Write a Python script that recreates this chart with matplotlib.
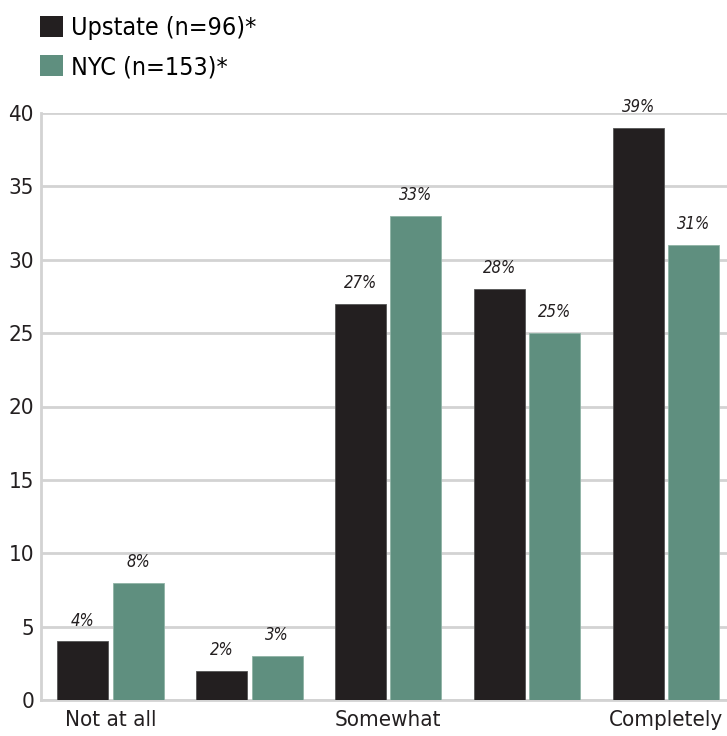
import matplotlib
matplotlib.use("Agg")
import matplotlib.pyplot as plt
from matplotlib.patches import Patch
import numpy as np

plt.rcParams['font.family'] = ["DejaVu Sans"]
plt.rcParams['font.stretch'] = "condensed"

categories = ["Not at all", "", "Somewhat", "", "Completely"]
upstate = [4, 2, 27, 28, 39]
nyc = [8, 3, 33, 25, 31]
series_names = ["Upstate (n=96)*", "NYC (n=153)*"]
yticks = [0, 5, 10, 15, 20, 25, 30, 35, 40]

c_up = "#231f20"
c_nyc = "#5f8f7f"
grid_c = "#d3d3d3"

fig = plt.figure(figsize=(7.27, 7.36), dpi=100)
ax = fig.add_axes([41/727, 36/736, 1 - 41/727, (700-113)/736])

x = np.arange(len(categories))
w = 0.367
off = 0.2
b1 = ax.bar(x - off, upstate, w, color=c_up, edgecolor="#555555", linewidth=0.6, zorder=3)
b2 = ax.bar(x + off, nyc, w, color=c_nyc, edgecolor="#8fb3a6", linewidth=0.6, zorder=3)

for bars, vals in ((b1, upstate), (b2, nyc)):
    for r, v in zip(bars, vals):
        ax.text(r.get_x() + r.get_width()/2, v + 0.8, f"{v}%", ha="center", va="bottom",
                fontsize=12, style="italic", color="#231f20", zorder=4)

ax.set_xlim(-0.5, 4.44)
ax.set_ylim(0, 40)
ax.set_yticks(yticks)
ax.set_yticklabels([str(t) for t in yticks], fontsize=16)
ax.set_xticks(x)
ax.set_xticklabels(categories, fontsize=16)
ax.tick_params(axis="y", length=0, pad=5, colors="#231f20")
ax.tick_params(axis="x", length=0, pad=7, colors="#231f20")
ax.yaxis.grid(True, color=grid_c, linewidth=2, zorder=0)
ax.set_axisbelow(True)
for s in ["top", "right"]:
    ax.spines[s].set_visible(False)
ax.spines["left"].set_color(grid_c)
ax.spines["left"].set_linewidth(2)
ax.spines["bottom"].set_color(grid_c)
ax.spines["bottom"].set_linewidth(2)

handles = [Patch(facecolor=c_up), Patch(facecolor=c_nyc)]
fig.legend(handles, series_names, loc="upper left", bbox_to_anchor=(30/727, 1 - 6/736),
           frameon=False, fontsize=18, handlelength=0.9, handleheight=0.9,
           handletextpad=0.35, labelspacing=0.6, borderaxespad=0)

fig.savefig("out.png", dpi=100)
